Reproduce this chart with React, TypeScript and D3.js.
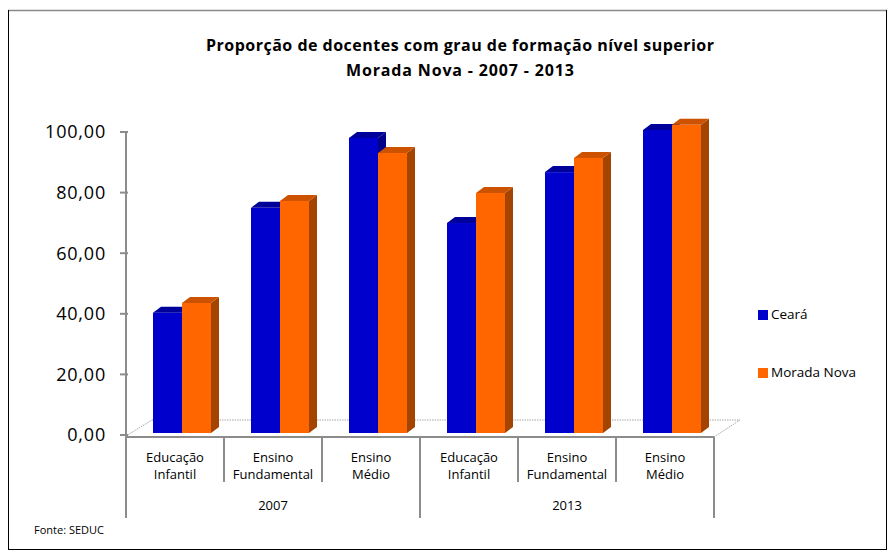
import React from "react";
import * as d3 from "d3";

const categories = ["Educação|Infantil", "Ensino|Fundamental", "Ensino|Médio", "Educação|Infantil", "Ensino|Fundamental", "Ensino|Médio"];
const years = ["2007", "2013"];
const seriesNames = ["Ceará", "Morada Nova"];
const cearaValues = [39.7, 74.3, 97.4, 69.3, 86.1, 100.0];
const moradaValues = [42.9, 76.6, 92.4, 79.2, 90.8, 101.7];
const yTicks = [0, 20, 40, 60, 80, 100];

const FONT = "'Open Sans', 'Liberation Sans', sans-serif";
const COLORS = [
  { front: "#0000CC", top: "#00009A", side: "#000088" },
  { front: "#FF6600", top: "#CC5200", side: "#A34400" },
];

export default function App() {
  const W = 895, H = 552;
  const left = 126, right = 714;
  const axisY = d3.scaleLinear().domain([0, 100]).range([435, 132]);
  const barY = d3.scaleLinear().domain([0, 100]).range([433, 130]);
  const ids = categories.map((_, i) => String(i));
  const xBand = d3.scaleBand().domain(ids).range([left, right]).padding(0);
  const bw = xBand.bandwidth();
  const groupW = 58;
  const xSeries = d3.scaleBand().domain(seriesNames).range([0, groupW]).padding(0);
  const groupOffset = (bw - groupW) / 2 + 7;
  const dx = 8, dy = 6;
  const floorDx = 26, floorDy = 16;
  const catAxisY = 437;
  const data = [cearaValues, moradaValues];

  const bars: JSX.Element[] = [];
  ids.forEach((id, i) => {
    data.forEach((vals, s) => {
      const v = vals[i];
      const x = (xBand(id) as number) + groupOffset + (xSeries(seriesNames[s]) as number);
      const w = xSeries.bandwidth();
      const yt = barY(v);
      const yb = barY(0);
      const c = COLORS[s];
      bars.push(
        <g key={`b${i}-${s}`}>
          <polygon points={`${x + w},${yt} ${x + w + dx},${yt - dy} ${x + w + dx},${yb - dy} ${x + w},${yb}`} fill={c.side} />
          <polygon points={`${x},${yt} ${x + w},${yt} ${x + w + dx},${yt - dy} ${x + dx},${yt - dy}`} fill={c.top} />
          <rect x={x} y={yt} width={w} height={yb - yt} fill={c.front} />
        </g>
      );
    });
  });

  const groupTicks = [left, (xBand("3") as number), right];
  const innerTicks = ["1", "2", "4", "5"].map((id) => xBand(id) as number);

  return (
    <svg width={W} height={H} style={{ position: "absolute", left: 0, top: 0, background: "#fff" }} fontFamily={FONT}>
      <rect x={0} y={0} width={W} height={H} fill="#fff" />
      {/* frame */}
      <line x1={8} y1={10.5} x2={887} y2={10.5} stroke="#8a8a8a" strokeWidth={1.5} />
      <line x1={8.5} y1={10} x2={8.5} y2={550} stroke="#000" strokeWidth={1} />
      <line x1={886.5} y1={10} x2={886.5} y2={550} stroke="#000" strokeWidth={1} />
      <line x1={8} y1={549.5} x2={887} y2={549.5} stroke="#000" strokeWidth={1} />

      {/* title */}
      <text x={460} y={51} textAnchor="middle" fontSize={16} fontWeight="bold" fill="#000" textLength={508} lengthAdjust="spacing">
        Proporção de docentes com grau de formação nível superior
      </text>
      <text x={460} y={76} textAnchor="middle" fontSize={16} fontWeight="bold" fill="#000" textLength={228} lengthAdjust="spacing">
        Morada Nova - 2007 - 2013
      </text>

      {/* floor */}
      <g stroke="#a6a6a6" strokeWidth={1} fill="none" strokeDasharray="1.5 1">
        <line x1={left + floorDx} y1={catAxisY - floorDy - 1} x2={right + floorDx} y2={catAxisY - floorDy - 1} />
        <line x1={left} y1={catAxisY - 1} x2={left + floorDx} y2={catAxisY - floorDy - 1} />
        <line x1={right} y1={catAxisY} x2={right + floorDx} y2={catAxisY - floorDy - 1} />
      </g>

      {bars}

      {/* y axis */}
      <line x1={left} y1={axisY(100)} x2={left} y2={catAxisY} stroke="#8c8c8c" strokeWidth={2} />
      {yTicks.map((t) => (
        <g key={t}>
          <line x1={left - 6} y1={axisY(t)} x2={left + 2} y2={axisY(t)} stroke="#8c8c8c" strokeWidth={2} />
          <text x={106} y={axisY(t)} dy="0.36em" textAnchor="end" fontSize={18} fill="#000" letterSpacing={0.8}>
            {d3.format(".2f")(t).replace(".", ",")}
          </text>
        </g>
      ))}

      {/* category axis */}
      <line x1={left} y1={catAxisY} x2={right} y2={catAxisY} stroke="#8c8c8c" strokeWidth={2} />
      {innerTicks.map((x, i) => (
        <line key={`it${i}`} x1={x} y1={catAxisY} x2={x} y2={482} stroke="#8c8c8c" strokeWidth={2} />
      ))}
      {groupTicks.map((x, i) => (
        <line key={`gt${i}`} x1={x} y1={catAxisY} x2={x} y2={518} stroke="#8c8c8c" strokeWidth={2} />
      ))}
      {categories.map((c, i) => {
        const cx = (xBand(String(i)) as number) + bw / 2;
        const [l1, l2] = c.split("|");
        return (
          <text key={`c${i}`} x={cx} textAnchor="middle" fontSize={13} fill="#000">
            <tspan x={cx} y={462}>{l1}</tspan>
            <tspan x={cx} y={479}>{l2}</tspan>
          </text>
        );
      })}
      {years.map((yr, k) => {
        const x0 = xBand(String(k * 3)) as number;
        const x1 = (xBand(String(k * 3 + 2)) as number) + bw;
        return (
          <text key={yr} x={(x0 + x1) / 2} y={510} textAnchor="middle" fontSize={13} fill="#000">
            {yr}
          </text>
        );
      })}

      {/* legend */}
      {seriesNames.map((s, i) => {
        const y = 314 + i * 58;
        return (
          <g key={s}>
            <rect x={758} y={y - 4} width={10} height={10} fill={COLORS[i].front} />
            <text x={771} y={y + 5} fontSize={13.5} fill="#000">{s}</text>
          </g>
        );
      })}

      <text x={34} y={534} fontSize={11} fill="#000">Fonte: SEDUC</text>
    </svg>
  );
}
